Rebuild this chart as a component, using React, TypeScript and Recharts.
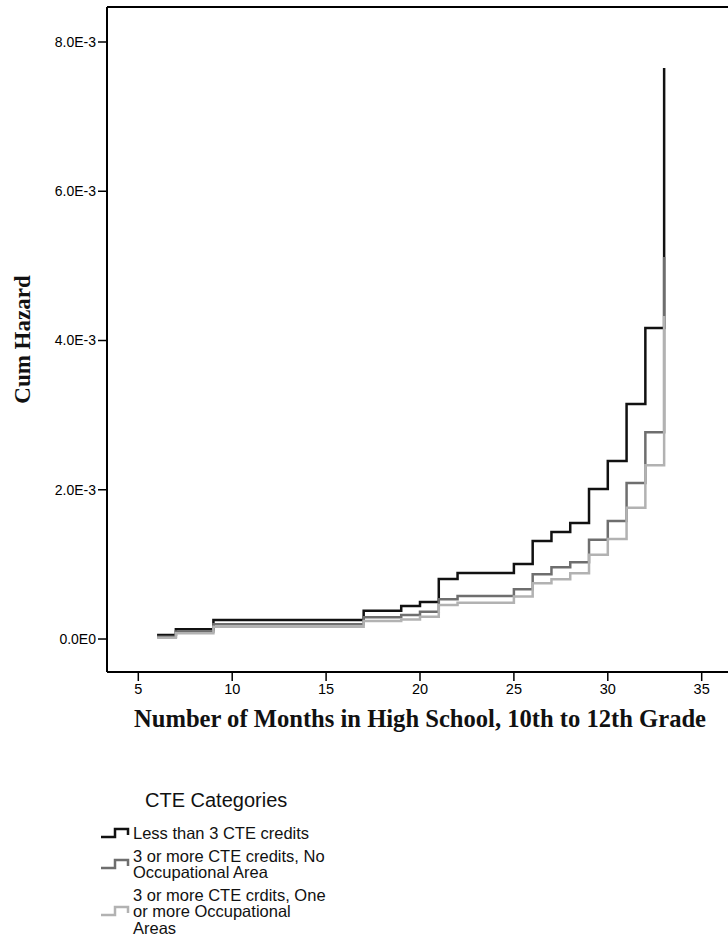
import React from "react"
import { Line, LineChart, ReferenceLine, XAxis, YAxis } from "recharts"

// months where the cumulative hazard steps
const months = [6, 7, 9, 17, 19, 20, 21, 22, 25, 26, 27, 28, 29, 30, 31, 32, 33]

const lessThan3 = [
  0.000054, 0.00013, 0.000255, 0.000379, 0.000442, 0.000496, 0.000804, 0.000884, 0.001005,
  0.001313, 0.001434, 0.001554, 0.00201, 0.002385, 0.00315, 0.004167, 0.007651,
]
const noOccArea = [
  0.00003, 0.0001, 0.000197, 0.00029, 0.000322, 0.000366, 0.000532, 0.000576, 0.000666,
  0.000867, 0.00096, 0.00103, 0.00133, 0.00158, 0.00209, 0.00277, 0.00512,
]
const oneOrMoreOcc = [
  0.000018, 0.000076, 0.000165, 0.00024, 0.000262, 0.0003, 0.000456, 0.000487, 0.00057,
  0.000746, 0.0008, 0.00088, 0.00113, 0.00134, 0.00176, 0.00233, 0.00433,
]

const xTicks = [5, 10, 15, 20, 25, 30, 35]
const yTicks = [0, 0.002, 0.004, 0.006, 0.008]
const yTickLabels = ["0.0E0", "2.0E-3", "4.0E-3", "6.0E-3", "8.0E-3"]

const seriesKeys = ["less3", "noOcc", "oneOcc"]
const seriesColors = ["#111111", "#6e6e6e", "#b2b2b2"]
const legendLines = [
  ["Less than 3 CTE credits"],
  ["3 or more CTE credits, No", "Occupational Area"],
  ["3 or more CTE crdits, One", "or more Occupational", "Areas"],
]

const xDomain = [3.333, 36.667]
const yDomain = [-0.000442, 0.008469]

const data = months.map((m, i) => ({
  month: m,
  less3: lessThan3[i],
  noOcc: noOccArea[i],
  oneOcc: oneOrMoreOcc[i],
}))

const sans = "'Liberation Sans', Arial, sans-serif"
const serif = "'Liberation Serif', 'Times New Roman', serif"

function StepIcon({ color }: { color: string }) {
  return (
    <svg width={30} height={12} style={{ flex: "none" }}>
      <path d="M1 10 H15 V2 H28 V8" fill="none" stroke={color} strokeWidth={2.5} />
    </svg>
  )
}

export default function App() {
  return (
    <div
      style={{
        position: "fixed",
        left: 0,
        top: 0,
        width: 728,
        height: 939,
        overflow: "hidden",
        background: "#fff",
      }}
    >
      <LineChart
        width={760}
        height={745}
        data={data}
        margin={{ top: 7, right: 27, bottom: 0, left: 0 }}
      >
        <XAxis
          dataKey="month"
          type="number"
          domain={xDomain}
          ticks={xTicks}
          allowDataOverflow
          height={73}
          tickSize={9}
          tickMargin={3}
          axisLine={{ stroke: "#000", strokeWidth: 2 }}
          tickLine={{ stroke: "#000", strokeWidth: 1.5 }}
          tick={{ fill: "#000", fontSize: 14.5, fontFamily: sans }}
          label={{
            value: "Number of Months in High School, 10th to 12th Grade",
            position: "insideBottom",
            offset: 18,
            style: { fontFamily: serif, fontWeight: "bold", fontSize: 24.6, fill: "#111" },
          }}
        />
        <YAxis
          type="number"
          domain={yDomain}
          ticks={yTicks}
          allowDataOverflow
          width={107}
          tickSize={9}
          tickMargin={2}
          tickFormatter={(v: number) => yTickLabels[yTicks.indexOf(v)] ?? ""}
          axisLine={{ stroke: "#000", strokeWidth: 2 }}
          tickLine={{ stroke: "#000", strokeWidth: 1.5 }}
          tick={{ fill: "#000", fontSize: 14, fontFamily: sans }}
          label={{
            value: "Cum Hazard",
            angle: -90,
            position: "insideLeft",
            offset: 22,
            style: {
              textAnchor: "middle",
              fontFamily: serif,
              fontWeight: "bold",
              fontSize: 23,
              fill: "#111",
            },
          }}
        />
        <ReferenceLine y={yDomain[1]} stroke="#000" strokeWidth={2} ifOverflow="visible" />
        {seriesKeys.map((k, i) => (
          <Line
            key={k}
            type="stepAfter"
            dataKey={k}
            stroke={seriesColors[i]}
            strokeWidth={2.5}
            dot={false}
            activeDot={false}
            isAnimationActive={false}
          />
        ))}
      </LineChart>

      <div
        style={{
          position: "absolute",
          left: 145,
          top: 788,
          fontFamily: sans,
          fontSize: 20,
          color: "#111",
          lineHeight: "24px",
        }}
      >
        CTE Categories
      </div>
      <div
        style={{
          position: "absolute",
          left: 100,
          top: 825,
          display: "flex",
          flexDirection: "column",
          gap: 6,
          fontFamily: sans,
          fontSize: 16.5,
          color: "#111",
        }}
      >
        {legendLines.map((lines, i) => (
          <div key={i} style={{ display: "flex", alignItems: "center", gap: 3 }}>
            <StepIcon color={seriesColors[i]} />
            <div style={{ lineHeight: "16.5px" }}>
              {lines.map((t, j) => (
                <div key={j}>{t}</div>
              ))}
            </div>
          </div>
        ))}
      </div>
    </div>
  )
}
